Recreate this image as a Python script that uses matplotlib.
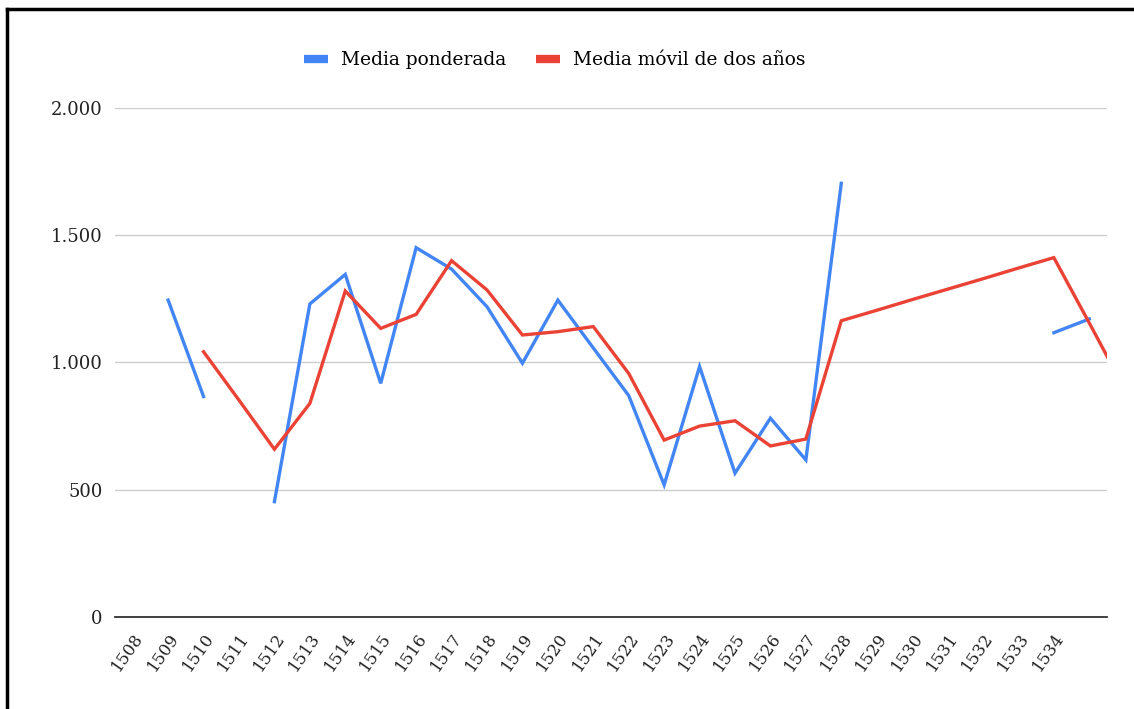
import numpy as np
import matplotlib
matplotlib.use("Agg")
import matplotlib.pyplot as plt
from matplotlib.lines import Line2D
from matplotlib.ticker import FuncFormatter

nan = np.nan

# Years covered by both series (the last one only feeds the clipped tail of the red line)
years = list(range(1508, 1537))
tick_years = list(range(1508, 1535))

media_ponderada = [
    nan, 1245, 866, nan, 453, 1230, 1346, 918, 1451, 1367,
    1219, 997, 1245, 1057, 870, 519, 984, 565, 781, 617,
    1704, nan, nan, nan, nan, nan, 1117, 1171, nan,
]
media_movil = [
    nan, nan, 1042, 852, 659, 839, 1281, 1134, 1189, 1400,
    1285, 1108, 1121, 1141, 957, 695, 750, 771, 672, 699,
    1164, 1205, 1247, 1288, 1329, 1371, 1412, 1155, 895,
]

BLUE = "#4285F4"
RED = "#EA4335"
FONT = "DejaVu Serif"

plt.rcParams["font.family"] = FONT

fig = plt.figure(figsize=(11.34, 7.09), dpi=100)
ax = fig.add_axes([0.1014, 0.1298, 0.8748, 0.7179])

ax.plot(years, media_ponderada, color=BLUE, lw=2.4, solid_joinstyle="miter")
ax.plot(years, media_movil, color=RED, lw=2.4, solid_joinstyle="miter")

ax.set_xlim(1507.5, 1535.5)
ax.set_ylim(0, 2000)
ax.set_yticks([0, 500, 1000, 1500, 2000])
ax.yaxis.set_major_formatter(FuncFormatter(lambda v, p: f"{int(v):,}".replace(",", ".")))
ax.set_xticks(tick_years)
ax.set_xticklabels([str(y) for y in tick_years], rotation=55, ha="right",
                   rotation_mode="anchor", fontsize=12, color="#222222")

ax.grid(axis="y", color="#cccccc", lw=1)
ax.set_axisbelow(True)
for side in ["top", "right", "left"]:
    ax.spines[side].set_visible(False)
ax.spines["bottom"].set_color("#333333")
ax.spines["bottom"].set_linewidth(1.3)
ax.tick_params(axis="both", length=0)
ax.tick_params(axis="y", pad=9, labelsize=13, labelcolor="#222222")
ax.tick_params(axis="x", pad=9)

handles = [
    Line2D([], [], color=BLUE, lw=6, solid_capstyle="butt"),
    Line2D([], [], color=RED, lw=6, solid_capstyle="butt"),
]
fig.legend(handles, ["Media ponderada", "Media móvil de dos años"],
           loc="center", bbox_to_anchor=(0.489, 0.915), ncol=2, frameon=False,
           fontsize=13.4, handlelength=1.3, handletextpad=0.7, columnspacing=1.6)

# frame around the chart (only the top and left edges fall inside the image)
fig.add_artist(Line2D([0.006, 0.006], [0, 0.987], color="black", lw=2.5,
                      transform=fig.transFigure))
fig.add_artist(Line2D([0.006, 1.0], [0.987, 0.987], color="black", lw=2.5,
                      transform=fig.transFigure))

fig.savefig("out.png", dpi=100, facecolor="white")
